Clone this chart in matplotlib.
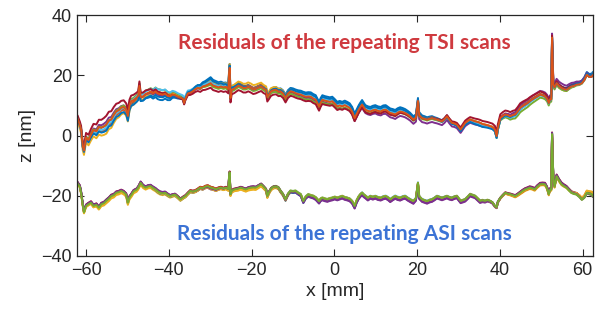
import numpy as np
import matplotlib
matplotlib.use('Agg')
import matplotlib.pyplot as plt

# scan position along the part [mm]
x_mm = [-62.0, -61.5, -61.2, -60.8, -60.5, -60.0, -59.4, -58.8, -58.2, -57.5,
        -56.9, -56.3, -55.7, -55.1, -54.5, -53.9, -53.3, -52.7, -52.1, -51.5,
        -50.9, -50.3, -49.9, -49.5, -49.1, -48.5, -47.8, -47.4, -47.1, -46.8,
        -46.2, -45.6, -45.0, -44.4, -43.8, -43.2, -42.7, -42.1, -41.5, -40.9,
        -40.3, -39.7, -39.1, -38.5, -37.8, -37.2, -36.6, -36.3, -36.0, -35.4,
        -34.8, -34.2, -33.6, -33.0, -32.4, -31.8, -31.2, -30.6, -29.9, -29.3,
        -28.6, -28.0, -27.4, -26.8, -26.2, -25.6, -25.45, -25.3, -25.1, -24.8,
        -24.2, -23.2, -22.6, -22.0, -21.4, -20.8, -20.2, -19.6, -19.0, -18.4,
        -17.7, -17.1, -16.5, -16.2, -15.8, -15.3, -14.7, -14.1, -13.5, -13.0,
        -12.4, -11.8, -11.2, -10.6, -10.0, -9.4, -8.8, -8.1, -7.5, -6.9,
        -6.3, -5.7, -5.1, -4.5, -3.7, -3.3, -2.9, -2.3, -1.7, -1.1,
        -0.5, 0.1, 0.7, 1.3, 1.9, 2.5, 3.1, 3.7, 4.3, 4.9,
        5.4, 5.9, 6.3, 6.7, 7.1, 7.5, 8.1, 8.7, 9.3, 9.9,
        10.5, 11.2, 11.8, 12.4, 13.0, 13.5, 14.1, 14.7, 15.3, 15.9,
        16.5, 17.1, 17.7, 18.3, 19.1, 19.7, 20.2, 20.5, 21.2, 21.8,
        22.4, 23.0, 23.6, 24.2, 24.8, 25.4, 26.0, 26.6, 27.2, 27.8,
        28.4, 29.0, 29.6, 30.5, 31.0, 31.6, 32.2, 32.8, 33.4, 34.0,
        34.6, 35.2, 35.8, 36.4, 37.0, 37.6, 38.2, 38.8, 39.2, 39.5,
        40.1, 40.7, 41.3, 41.9, 42.5, 43.1, 43.7, 44.3, 44.9, 45.5,
        46.1, 46.7, 47.2, 47.8, 48.4, 49.0, 49.7, 50.3, 50.9, 51.4,
        51.8, 52.1, 52.4, 52.6, 52.9, 53.2, 53.7, 54.3, 54.9, 55.5,
        56.1, 56.7, 57.3, 57.9, 58.5, 59.2, 59.8, 60.4, 61.0, 61.6,
        62.2, 62.4]

# mean residual profile, TSI scans [nm]
tsi_mean = [5.5, 3.5, 2.0, -3.5, -5.0, -0.7, -1.5, 0.3, 1.8, 1.4,
            2.8, 2.6, 3.0, 3.6, 5.0, 5.3, 6.8, 8.0, 8.4, 9.2,
            9.5, 8.6, 6.5, 10.0, 11.4, 11.8, 12.6, 13.2, 16.5, 12.8,
            13.0, 13.8, 14.1, 14.5, 14.0, 14.6, 14.0, 13.8, 13.6, 13.9,
            13.2, 13.0, 13.6, 13.4, 12.9, 12.6, 12.3, 10.8, 12.2, 14.0,
            14.2, 14.7, 15.4, 15.8, 15.6, 16.3, 16.5, 16.9, 17.4, 16.6,
            16.3, 16.0, 16.3, 16.0, 16.2, 15.5, 20.0, 22.5, 12.5, 15.2,
            15.6, 16.6, 16.3, 15.8, 15.8, 16.2, 15.8, 15.3, 15.5, 15.9,
            16.3, 15.6, 15.2, 12.8, 13.6, 14.7, 15.1, 15.2, 14.6, 14.7,
            14.0, 12.5, 14.0, 14.7, 14.5, 14.1, 13.8, 13.6, 13.2, 12.9,
            13.0, 12.9, 12.3, 11.9, 9.7, 11.0, 11.9, 11.6, 11.4, 11.2,
            11.4, 10.6, 9.7, 10.0, 9.7, 10.1, 9.7, 9.2, 8.0, 5.8,
            7.2, 8.6, 9.5, 10.3, 9.4, 8.6, 8.2, 8.0, 8.4, 8.6,
            8.2, 8.0, 8.5, 8.6, 8.0, 7.5, 7.3, 7.0, 7.6, 8.0,
            7.8, 7.5, 7.0, 6.4, 5.3, 6.0, 11.5, 6.8, 5.8, 5.6,
            5.3, 5.6, 5.8, 5.5, 5.3, 5.0, 4.7, 5.4, 6.4, 5.2,
            4.2, 4.0, 3.6, 2.0, 3.0, 4.2, 4.8, 5.3, 5.0, 4.7,
            4.5, 4.2, 3.8, 3.6, 3.4, 3.1, 2.8, 2.0, -0.2, 2.5,
            5.8, 6.5, 7.0, 6.8, 6.4, 6.8, 7.0, 8.0, 9.2, 9.8,
            10.3, 10.8, 11.4, 12.0, 12.5, 13.0, 13.6, 13.4, 13.0, 12.2,
            10.8, 12.0, 12.0, 32.5, 17.0, 16.0, 17.4, 16.4, 15.8, 15.4,
            15.2, 15.8, 16.3, 16.5, 16.9, 17.0, 17.4, 18.5, 20.2, 19.5,
            19.6, 20.0]

# mean residual profile, ASI scans [nm]
asi_mean = [-16.0, -17.0, -19.0, -23.0, -25.5, -23.4, -22.8, -22.3, -23.4, -23.0,
            -24.0, -22.8, -22.5, -21.7, -21.0, -20.1, -19.8, -19.0, -18.8, -18.4,
            -18.8, -19.6, -22.3, -20.5, -19.8, -18.5, -18.0, -17.3, -16.5, -15.7,
            -16.8, -17.3, -16.9, -16.8, -17.4, -17.9, -18.5, -19.0, -19.2, -19.0,
            -19.6, -20.1, -19.8, -19.6, -20.4, -21.2, -20.6, -20.3, -20.1, -19.2,
            -18.4, -18.6, -18.4, -17.9, -17.3, -17.5, -17.0, -16.8, -17.3, -17.5,
            -17.9, -17.5, -17.3, -17.6, -17.3, -17.8, -14.0, -12.2, -19.5, -18.3,
            -17.9, -17.6, -17.3, -17.6, -17.9, -17.5, -17.3, -17.2, -17.3, -16.8,
            -16.2, -17.0, -17.9, -20.1, -18.8, -17.6, -17.0, -16.9, -17.3, -18.4,
            -19.5, -21.2, -19.4, -18.4, -18.6, -18.4, -19.0, -19.6, -21.8, -20.3,
            -19.6, -19.9, -20.1, -20.6, -21.8, -21.0, -20.7, -21.0, -21.2, -20.9,
            -20.7, -20.4, -20.7, -20.4, -20.1, -20.5, -20.7, -21.0, -21.8, -23.4,
            -21.5, -20.2, -19.5, -19.0, -19.6, -20.0, -20.7, -20.1, -20.4, -20.1,
            -20.5, -20.7, -20.3, -20.1, -20.6, -21.2, -20.6, -20.1, -20.5, -20.7,
            -20.3, -20.1, -20.7, -21.2, -21.8, -20.8, -15.7, -20.2, -21.2, -21.5,
            -21.8, -21.4, -21.2, -20.7, -20.1, -20.4, -20.7, -20.4, -20.1, -20.5,
            -20.7, -20.3, -20.1, -21.7, -21.5, -21.2, -20.4, -19.5, -19.8, -20.1,
            -20.9, -21.7, -21.5, -21.7, -21.4, -21.7, -22.2, -23.4, -23.8, -22.0,
            -20.7, -19.8, -19.0, -19.3, -19.5, -19.8, -20.1, -19.6, -19.0, -18.4,
            -17.9, -17.6, -17.3, -17.5, -17.9, -17.0, -16.2, -16.1, -16.2, -17.5,
            -19.5, -18.0, -18.0, 0.5, -14.0, -17.0, -13.5, -15.0, -16.2, -16.8,
            -17.3, -18.2, -19.0, -19.3, -19.5, -20.3, -21.2, -20.5, -19.0, -19.3,
            -19.5, -20.0]

# scan-to-scan deviation from the mean, given at a few positions [nm]
dev_x = [-62, -55, -42, -30, -20, -5, 15, 35, 45, 55, 62.4]
tsi_dev = [
    [0.0, 0.0, -2.0, 2.0, 0.5, 1.5, 1.5, -0.5, -0.5, 0.5, 1.0],
    [0.0, -1.5, 0.5, 0.5, 0.5, 0.5, 0.5, 0.0, 0.5, 0.0, 0.0],
    [-1.0, -3.0, 0.0, 1.0, 1.5, 0.0, 0.0, 0.0, 0.0, -0.5, 0.5],
    [0.0, 1.0, -0.5, 0.0, 0.0, -0.5, -1.5, -1.0, 1.0, 1.5, 0.5],
    [0.5, 0.0, 1.5, -0.5, -0.5, -1.0, -0.5, 0.0, -1.5, -0.5, 0.0],
    [0.0, -1.0, 1.5, 0.5, 0.0, 0.5, 0.5, -0.5, -0.5, 0.0, 0.0],
    [1.0, 3.0, 0.5, -1.5, -1.5, -1.5, -0.5, 1.0, 1.5, 0.5, 0.0],
    [0.0, -2.0, -1.0, 1.5, 0.0, 1.0, 1.0, -1.0, 0.0, 0.0, 0.5],
    [0.0, 0.0, 0.0, 0.0, 0.0, 0.0, 0.0, 0.0, 0.0, 0.0, 0.0],
]
asi_dev = [
    [0.0, -0.8, -0.6, -0.3, -0.8, -0.2, -0.3, 0.0, -0.5, -0.3, 0.6],
    [0.3, 0.2, 0.3, -0.6, 0.2, -0.8, -0.9, -0.7, 0.2, 0.3, 0.0],
    [0.0, -0.3, -0.2, 0.0, 0.2, 0.2, 0.0, 0.2, -0.2, 0.0, -0.3],
    [0.2, 0.0, 0.2, 0.2, 0.0, 0.0, 0.2, 0.0, 0.0, 0.2, 0.2],
    [0.5, 0.5, 0.3, 0.3, 0.3, -0.3, -0.3, -0.2, 0.4, 0.6, 0.3],
    [0.2, 0.3, -0.3, -0.4, -0.3, -0.5, -0.6, -0.3, 0.0, 0.3, 0.4],
    [0.0, 0.0, 0.0, 0.3, -0.4, 0.0, 0.0, 0.0, -0.3, 0.0, 0.8],
    [-0.3, -0.5, -0.2, -0.5, -0.6, 0.0, 0.0, -0.3, -0.2, 0.0, 0.9],
    [0.4, 0.3, 0.5, -0.3, 0.4, -0.6, -0.8, -0.5, 0.3, 0.4, -0.2],
    [0.0, 0.0, 0.0, 0.0, 0.0, 0.0, 0.0, 0.0, 0.0, 0.0, 0.0],
]

colors = ['#0072BD', '#D95319', '#EDB120', '#7E2F8E', '#77AC30', '#4DBEEE', '#A2142F']

x = np.array(x_mm)
fig = plt.figure(figsize=(5.95, 3.22), dpi=100)
ax = fig.add_axes([0.130, 0.205, 0.866, 0.748])

k = 0
for dev in tsi_dev:
    z = np.array(tsi_mean) + np.interp(x, dev_x, dev)
    ax.plot(x, z, color=colors[k % 7], lw=1.4)
    k += 1
for dev in asi_dev:
    z = np.array(asi_mean) + np.interp(x, dev_x, dev)
    ax.plot(x, z, color=colors[k % 7], lw=1.4)
    k += 1

ax.set_xlim(-62.1, 62.4)
ax.set_ylim(-40, 40)
ax.set_xticks([-60, -40, -20, 0, 20, 40, 60])
ax.set_yticks([-40, -20, 0, 20, 40])
ax.tick_params(direction='in', top=True, right=True, length=5, width=0.8,
               labelsize=13, color='#262626', labelcolor='#262626', pad=4)
for s in ax.spines.values():
    s.set_color('#262626')
    s.set_linewidth(0.9)
for lab in ax.get_xticklabels() + ax.get_yticklabels():
    lab.set_family('Liberation Sans')

ax.set_xlabel('x [mm]', fontsize=14, family='Liberation Sans', color='#262626', labelpad=3)
ax.set_ylabel('z [nm]', fontsize=14, family='Liberation Sans', color='#262626', labelpad=4)

ax.text(2.3, 30.8, 'Residuals of the repeating TSI scans', color='#CF3A3F',
        fontsize=15, fontweight='bold', family='Lato', ha='center', va='center')
ax.text(2.3, -32.8, 'Residuals of the repeating ASI scans', color='#3C73D5',
        fontsize=15, fontweight='bold', family='Lato', ha='center', va='center')

fig.savefig('out.png', dpi=100)
